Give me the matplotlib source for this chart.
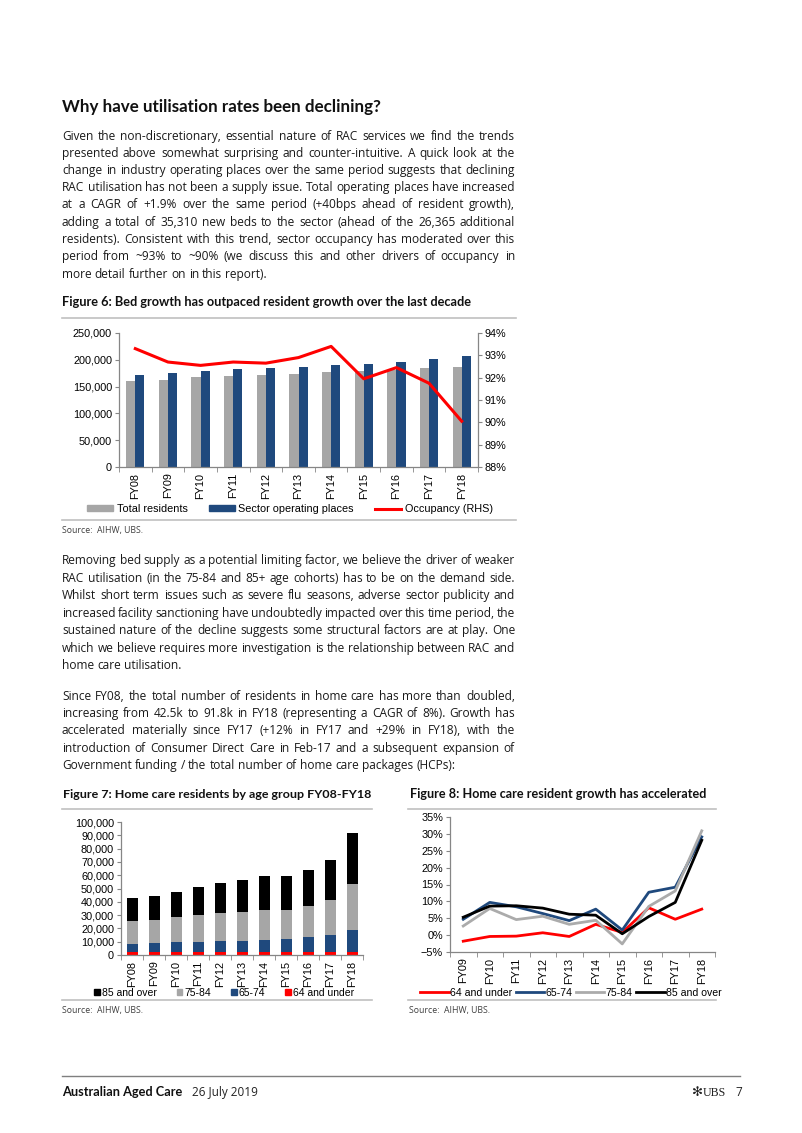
import math
import matplotlib
matplotlib.use("Agg")
from matplotlib import pyplot as plt
from matplotlib.patches import Patch
from matplotlib.lines import Line2D
from matplotlib.ticker import StrMethodFormatter
from matplotlib.font_manager import FontProperties
from matplotlib.backends.backend_agg import get_hinting_flag
import numpy as np

W, H = 802, 1133

# ---------------- data ----------------
fy_all = ['FY08', 'FY09', 'FY10', 'FY11', 'FY12', 'FY13', 'FY14', 'FY15', 'FY16', 'FY17', 'FY18']

# Figure 6
total_residents = [160500, 163000, 167000, 169500, 171500, 174000, 177000, 179500, 181500, 184500, 186900]
operating_places = [172000, 175500, 180000, 182500, 185000, 187000, 190000, 193000, 196500, 201000, 207300]
occupancy = [93.3, 92.7, 92.55, 92.7, 92.65, 92.9, 93.4, 91.95, 92.45, 91.75, 90.05]

# Figure 7 (home care residents by age group)
hc_64_under = [2000, 1960, 1950, 1940, 1950, 1940, 2000, 2020, 2180, 2290, 2460]
hc_65_74 = [6500, 6800, 7450, 8100, 8600, 8950, 9650, 9800, 11050, 12600, 16250]
hc_75_84 = [17000, 17450, 18800, 19700, 20800, 21450, 22400, 21850, 23700, 26750, 35000]
hc_85_over = [17000, 17900, 19400, 21100, 22750, 24150, 25550, 25650, 27050, 29650, 38100]

# Figure 8 (growth, %)
fy_growth = fy_all[1:]
g_64_under = [-1.8, -0.4, -0.3, 0.7, -0.4, 3.2, 0.8, 8.1, 4.7, 7.7]
g_65_74 = [4.7, 9.7, 8.4, 6.4, 4.3, 7.7, 1.5, 12.7, 14.2, 29.1]
g_75_84 = [2.7, 7.9, 4.6, 5.6, 3.2, 4.4, -2.6, 8.5, 13.1, 30.9]
g_85_over = [5.3, 8.6, 8.7, 8.0, 6.2, 5.9, 0.4, 5.5, 9.7, 28.1]

para1 = [
    "Given the non-discretionary, essential nature of RAC services we find the trends",
    "presented above somewhat surprising and counter-intuitive. A quick look at the",
    "change in industry operating places over the same period suggests that declining",
    "RAC utilisation has not been a supply issue. Total operating places have increased",
    "at a CAGR of +1.9% over the same period (+40bps ahead of resident growth),",
    "adding a total of 35,310 new beds to the sector (ahead of the 26,365 additional",
    "residents). Consistent with this trend, sector occupancy has moderated over this",
    "period from ~93% to ~90% (we discuss this and other drivers of occupancy in",
    "more detail further on in this report).",
]
para2 = [
    "Removing bed supply as a potential limiting factor, we believe the driver of weaker",
    "RAC utilisation (in the 75-84 and 85+ age cohorts) has to be on the demand side.",
    "Whilst short term issues such as severe flu seasons, adverse sector publicity and",
    "increased facility sanctioning have undoubtedly impacted over this time period, the",
    "sustained nature of the decline suggests some structural factors are at play. One",
    "which we believe requires more investigation is the relationship between RAC and",
    "home care utilisation.",
]
para3 = [
    "Since FY08, the total number of residents in home care has more than doubled,",
    "increasing from 42.5k to 91.8k in FY18 (representing a CAGR of 8%). Growth has",
    "accelerated materially since FY17 (+12% in FY17 and +29% in FY18), with the",
    "introduction of Consumer Direct Care in Feb-17 and a subsequent expansion of",
    "Government funding / the total number of home care packages (HCPs):",
]

GRAY = '#A6A6A6'
NAVY = '#1F497D'
RED = '#FF0000'
SPINE = '#868686'
BODY = 'Open Sans'
HEAD = 'Lato'
CHART = ['Liberation Sans', 'DejaVu Sans']
plt.rcParams['font.family'] = CHART

fig = plt.figure(figsize=(W / 100, H / 100), dpi=100)
renderer = fig.canvas.get_renderer()


def fx(px):
    return px / W


def fy(py):
    return 1 - py / H


def fit_text(px, py, s, width, size=10, **kw):
    # size a single line of text so it spans the given pixel width
    t = fig.text(fx(px), fy(py), s, fontsize=size, va='baseline', **kw)
    w = t.get_window_extent(renderer).width
    t.set_fontsize(size * width / w)
    return t


def natural_width(line, size):
    t = fig.text(0, 0, line, fontsize=size, family=BODY)
    w = t.get_window_extent(renderer).width
    t.remove()
    return w


def baseline_fix(word, size):
    # agg rounds each text bitmap on its own, so words on one line can land
    # a pixel apart; work out where to put each one so baselines match
    try:
        font = renderer._prepare_font(FontProperties(family=BODY, size=size))
        font.set_text(word, 0, flags=get_hinting_flag())
        _, h = font.get_width_height()
        d = font.get_descent()
        ymax = h - d
        return h // 64 - math.floor(ymax / 64) - d / 64
    except Exception:
        return 0.0


def paragraph(lines, x0, x1, y0, dy, size, color='#1a1a1a'):
    # justified paragraph, last line left aligned
    for i, line in enumerate(lines):
        base = round(y0 + i * dy)
        words = line.split()
        texts = []
        for w in words:
            texts.append(fig.text(0, fy(base + baseline_fix(w, size)), w, fontsize=size,
                                  family=BODY, color=color, va='baseline'))
        widths = [t.get_window_extent(renderer).width for t in texts]
        if i == len(lines) - 1:
            gap = natural_width('a b', size) - natural_width('ab', size)
        else:
            gap = (x1 - x0 - sum(widths)) / (len(words) - 1)
        x = x0
        for t, w in zip(texts, widths):
            t.set_x(fx(x))
            x += w + gap


def hline(x0, x1, y, color='#C0C0C0', lw=1.2):
    fig.add_artist(Line2D([fx(x0), fx(x1)], [fy(y), fy(y)], color=color, lw=lw))


# ---------------- text ----------------
full_lines = [l for p in (para1, para2, para3) for l in p[:-1]]
ref = max(natural_width(l, 10) for l in full_lines)
body_size = 10 * 463 / ref

fit_text(62, 112, "Why have utilisation rates been declining?", 321, family=HEAD, weight='bold', color='#111111')
paragraph(para1, 62, 515, 139.5, 17.25, body_size)
paragraph(para2, 62, 515, 564.5, 17.4, body_size)
paragraph(para3, 62, 515, 700, 17.2, body_size)

fit_text(62, 306, "Figure 6: Bed growth has outpaced resident growth over the last decade", 411,
         family=HEAD, weight='bold', color='#111111')
hline(62, 516, 318)
hline(62, 516, 520)
fit_text(62, 533, "Source:  AIHW, UBS.", 81, family=BODY, color='#404040')

fit_text(63, 797.5, "Figure 7: Home care residents by age group FY08-FY18", 309,
         family=HEAD, weight='bold', color='#111111')
fit_text(410, 797.5, "Figure 8: Home care resident growth has accelerated", 297,
         family=HEAD, weight='bold', color='#111111')
hline(62, 372, 809)
hline(408, 716, 809)
hline(62, 372, 1000)
hline(408, 716, 1000)
fit_text(62, 1013, "Source:  AIHW, UBS.", 81, family=BODY, color='#404040')
fit_text(409, 1013, "Source:  AIHW, UBS.", 81, family=BODY, color='#404040')

# footer
hline(62, 740, 1076, color='#7F7F7F', lw=1.0)
fit_text(62, 1096, "Australian Aged Care", 120, family=HEAD, weight='bold', color='#111111')
fit_text(192, 1096, "26 July 2019", 66, family=BODY, color='#222222')
fig.text(fx(692), fy(1096), '\u273B', fontsize=9.5, family='DejaVu Sans', va='baseline', color='#222222')
fig.text(fx(703), fy(1096), 'UBS', fontsize=8.6, family='Liberation Serif', va='baseline', color='#222222')
fig.text(fx(735), fy(1096), '7', fontsize=8.5, family=BODY, va='baseline', color='#222222')


def style_axes(ax, n, ticklabels, labelsize=7.8):
    ax.set_xlim(-0.5, n - 0.5)
    ax.set_xticks(range(n))
    ax.set_xticklabels(ticklabels, rotation=90, fontsize=labelsize)
    ax.set_xticks(np.arange(n + 1) - 0.5, minor=True)
    ax.tick_params(axis='x', which='major', length=0, pad=4)
    ax.tick_params(axis='x', which='minor', length=3.5, color=SPINE)
    ax.tick_params(axis='y', length=3, color=SPINE, labelsize=labelsize, pad=2)
    for s in ['top', 'right']:
        ax.spines[s].set_visible(False)
    for s in ['left', 'bottom']:
        ax.spines[s].set_color(SPINE)
        ax.spines[s].set_linewidth(0.9)
    ax.patch.set_alpha(0)


# ---------------- Figure 6 ----------------
x6 = np.arange(len(fy_all))
ax6 = fig.add_axes([fx(119), fy(467), (478 - 119) / W, (467 - 333) / H])
ax6.bar(x6 - 0.14, total_residents, 0.28, color=GRAY)
ax6.bar(x6 + 0.14, operating_places, 0.28, color=NAVY)
ax6.set_ylim(0, 250000)
ax6.set_yticks(range(0, 250001, 50000))
ax6.yaxis.set_major_formatter(StrMethodFormatter('{x:,.0f}'))
style_axes(ax6, len(fy_all), fy_all)
ax6r = ax6.twinx()
ax6r.plot(x6, occupancy, color=RED, lw=2.2, solid_joinstyle='round')
ax6r.set_ylim(88, 94)
ax6r.set_yticks(range(88, 95))
ax6r.yaxis.set_major_formatter(StrMethodFormatter('{x:.0f}%'))
ax6r.tick_params(axis='y', length=3, color=SPINE, labelsize=7.8, pad=2)
for s in ['top', 'left', 'bottom']:
    ax6r.spines[s].set_visible(False)
ax6r.spines['right'].set_color(SPINE)
ax6r.spines['right'].set_linewidth(0.9)

h6 = [Patch(color=GRAY), Patch(color=NAVY), Line2D([], [], color=RED, lw=2.2)]
fig.legend(h6, ['Total residents', 'Sector operating places', 'Occupancy (RHS)'],
           loc='center', bbox_to_anchor=(fx(290), fy(509)), ncol=3, frameon=False,
           fontsize=7.8, handlelength=2.4, handleheight=0.45, handletextpad=0.3,
           columnspacing=2.0, borderpad=0, borderaxespad=0)

# ---------------- Figure 7 ----------------
x7 = np.arange(len(fy_all))
ax7 = fig.add_axes([fx(121), fy(955), (363 - 121) / W, (955 - 822) / H])
stack = [(hc_64_under, RED), (hc_65_74, NAVY), (hc_75_84, GRAY), (hc_85_over, '#000000')]
bottom = np.zeros(len(fy_all))
for vals, col in stack:
    ax7.bar(x7, vals, 0.5, bottom=bottom, color=col)
    bottom += np.array(vals)
ax7.set_ylim(0, 100000)
ax7.set_yticks(range(0, 100001, 10000))
ax7.yaxis.set_major_formatter(StrMethodFormatter('{x:,.0f}'))
style_axes(ax7, len(fy_all), fy_all)

h7 = [Patch(color='#000000'), Patch(color=GRAY), Patch(color=NAVY), Patch(color=RED)]
fig.legend(h7, ['85 and over', '75-84', '65-74', '64 and under'],
           loc='center', bbox_to_anchor=(fx(224), fy(993)), ncol=4, frameon=False,
           fontsize=7.5, handlelength=0.55, handleheight=0.55, handletextpad=0.2,
           columnspacing=1.9, borderpad=0, borderaxespad=0)

# ---------------- Figure 8 ----------------
x8 = np.arange(len(fy_growth))
ax8 = fig.add_axes([fx(450), fy(952), (715 - 450) / W, (952 - 817) / H])
lines8 = [(g_64_under, RED), (g_65_74, NAVY), (g_75_84, '#ABABAB'), (g_85_over, '#000000')]
for vals, col in lines8:
    ax8.plot(x8, vals, color=col, lw=2.0, solid_joinstyle='round')
ax8.set_ylim(-5, 35)
ax8.set_yticks(range(-5, 36, 5))
ax8.yaxis.set_major_formatter(StrMethodFormatter('{x:.0f}%'))
style_axes(ax8, len(fy_growth), fy_growth)

h8 = [Line2D([], [], color=c, lw=2.0) for _, c in lines8]
fig.legend(h8, ['64 and under', '65-74', '75-84', '85 and over'],
           loc='center', bbox_to_anchor=(fx(571), fy(993)), ncol=4, frameon=False,
           fontsize=7.6, handlelength=2.7, handletextpad=0.15,
           columnspacing=0.3, borderpad=0, borderaxespad=0)

fig.savefig('out.png', dpi=100)
